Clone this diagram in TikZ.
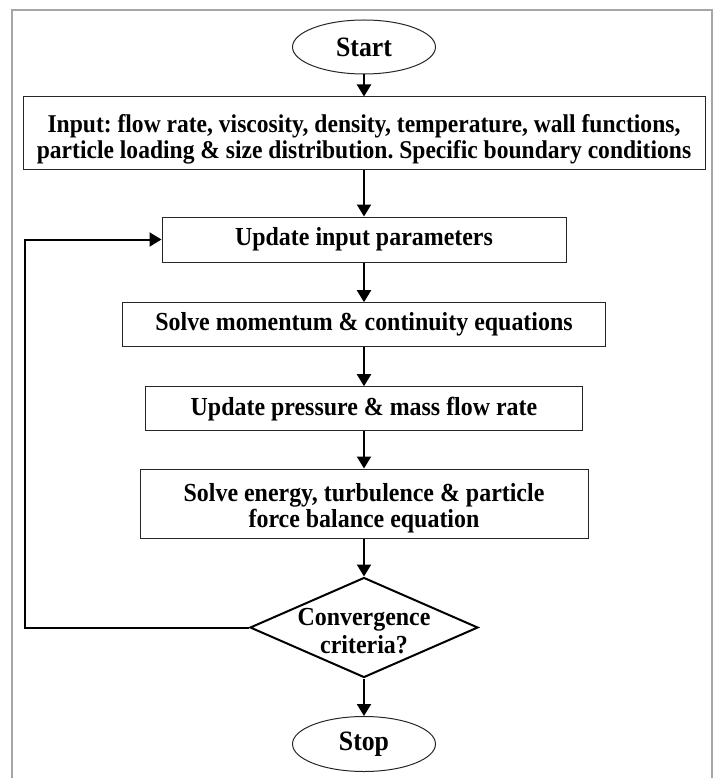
\documentclass[tikz,border=0pt]{standalone}
\usepackage{fontspec}
\setmainfont{Liberation Serif}[FakeStretch=0.92]
\usetikzlibrary{shapes.geometric,arrows.meta}

\tikzset{
    stepbox/.style={draw=black!85,line width=1pt,inner sep=0pt,align=center,
        font=\bfseries\fontsize{26}{26}\selectfont\frenchspacing},
    terminal/.style={ellipse,draw=black!85,line width=1pt,inner sep=0pt,
        minimum width=143pt,minimum height=54pt,font=\bfseries\fontsize{28}{28}\selectfont},
    decision/.style={diamond,draw=black,line width=2pt,aspect=2.28,inner sep=-8pt,
        minimum width=228pt,minimum height=100pt,align=center,text height=53pt,
        font=\bfseries\fontsize{26}{28}\selectfont},
    flow/.style={line width=2pt,-{Triangle[length=12pt,width=14pt]}}
}

\begin{document}
\begin{tikzpicture}[x=1pt,y=-1pt]
                \useasboundingbox (0,0) rectangle (722,778);
                % outer frame, open at the bottom
                \draw[black!35,line width=2pt] (12,778)--(12,10)--(712,10)--(712,778);
                \node[terminal] (start) at (364,47){Start};
                \node[stepbox,minimum width=682pt,minimum height=73pt,text height=56pt,
                    font=\bfseries\fontsize{25.6}{26}\selectfont\frenchspacing] (input) at (364,133.5){Input: flow rate, viscosity, density, temperature, wall functions,\\particle loading \& size distribution. Specific boundary conditions};
                \node[stepbox,minimum width=404pt,minimum height=45pt] (update) at (364,239.5){Update input parameters};
                \node[stepbox,minimum width=483pt,minimum height=44pt] (momentum) at (364,324.7){Solve momentum \& continuity equations};
                \node[stepbox,minimum width=437pt,minimum height=44pt] (pressure) at (364,408.7){Update pressure \& mass flow rate};
                \node[stepbox,minimum width=448pt,minimum height=69pt,text height=54pt] (energy) at (364,503.5){Solve energy, turbulence \& particle\\force balance equation};
                \node[decision] (conv) at (364,627.5){Convergence\\criteria?};
                \node[terminal,minimum height=55pt] (stop) at (364,744){Stop};
                \coordinate (back) at (25,627.5);
                \draw[flow] (start)--(input);
                \draw[flow] (input)--(update);
                \draw[flow] (update)--(momentum);
                \draw[flow] (momentum)--(pressure);
                \draw[flow] (pressure)--(energy);
                \draw[flow] (energy)--(conv);
                \draw[flow] (conv)--(stop);
                \draw[flow] (conv.west)--(back)|-(update.west);
            \end{tikzpicture}
\end{document}
